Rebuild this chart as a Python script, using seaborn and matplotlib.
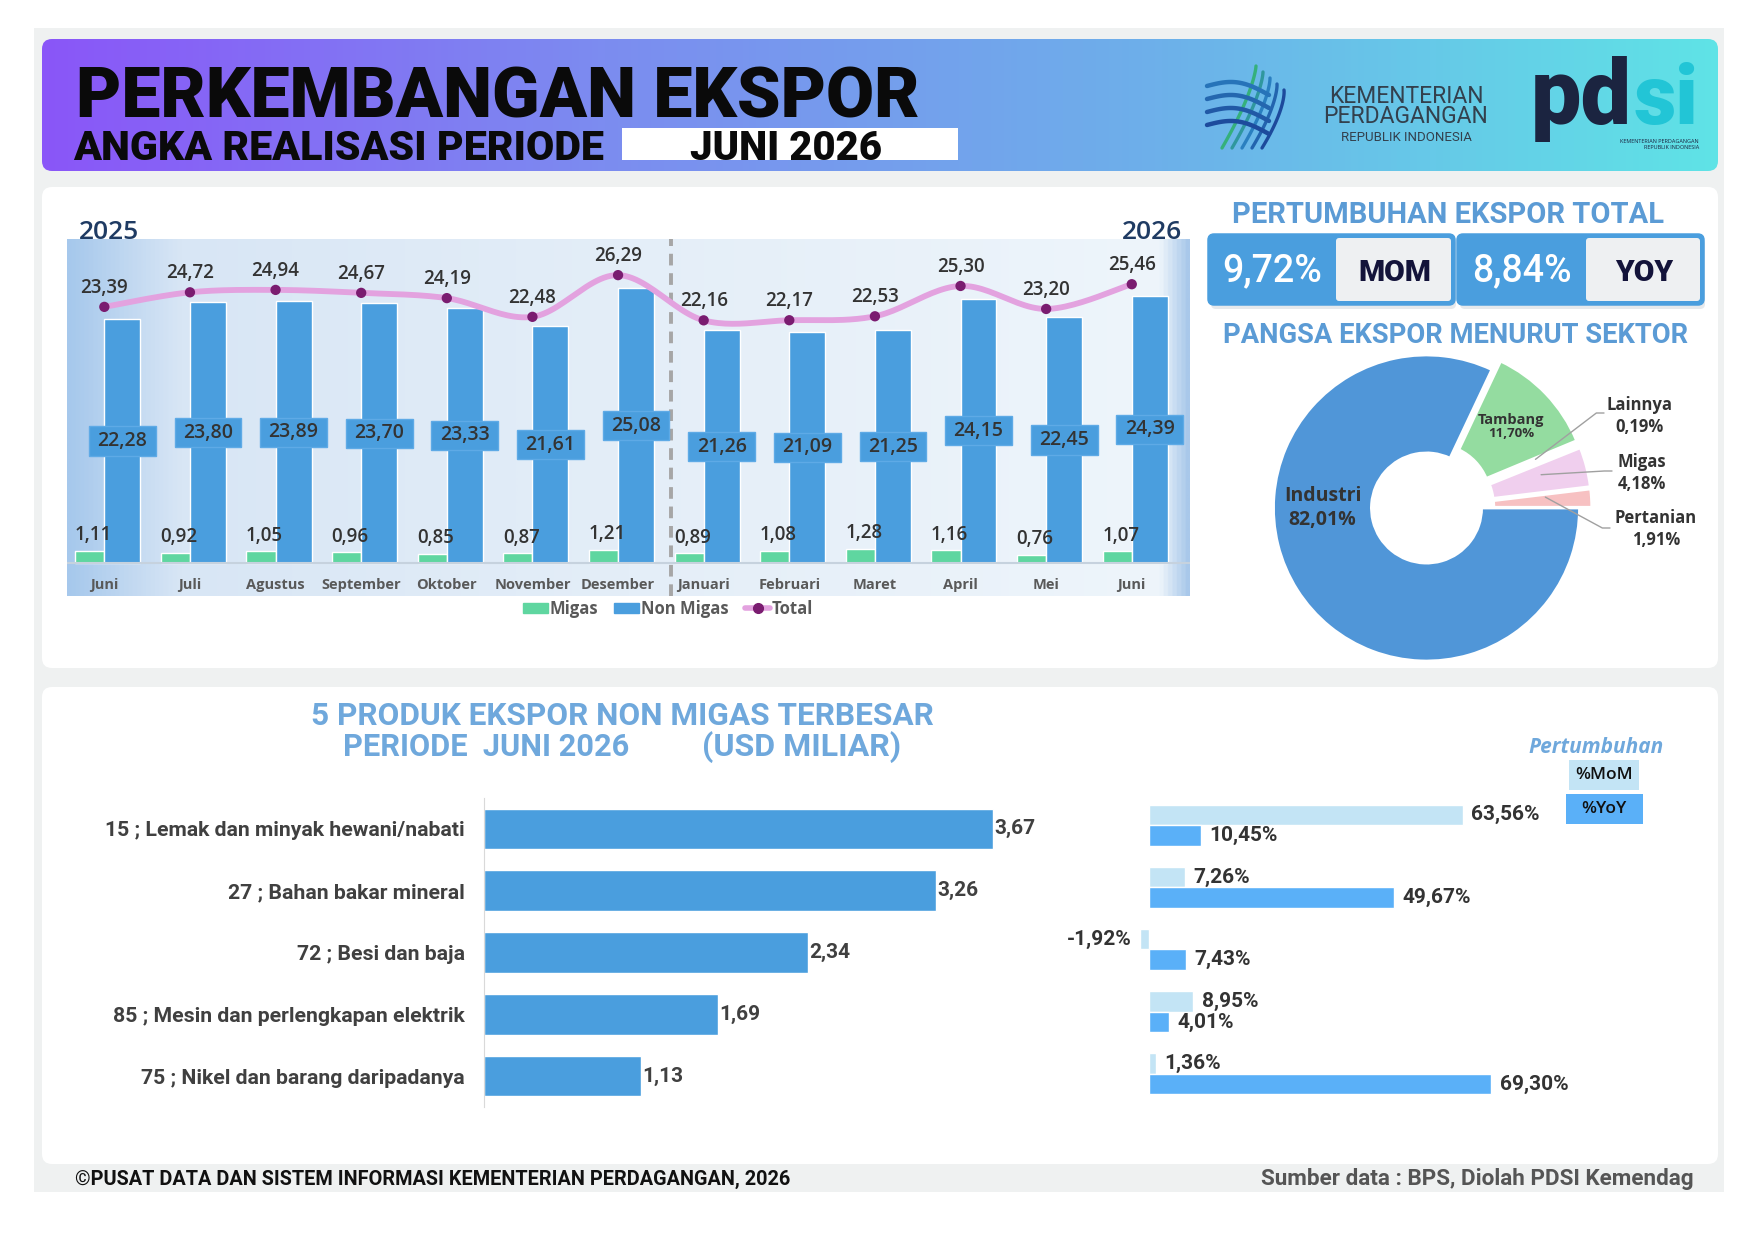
import numpy as np
import pandas as pd
import matplotlib
matplotlib.use("Agg")
import matplotlib.pyplot as plt
import matplotlib.colors as mcolors
from matplotlib.patches import FancyBboxPatch, Rectangle, Patch
from matplotlib.lines import Line2D
import seaborn as sns

# ---- data ----
months = ["Juni", "Juli", "Agustus", "September", "Oktober", "November", "Desember",
          "Januari", "Februari", "Maret", "April", "Mei", "Juni"]
migas = [1.11, 0.92, 1.05, 0.96, 0.85, 0.87, 1.21, 0.89, 1.08, 1.28, 1.16, 0.76, 1.07]
non_migas = [22.28, 23.80, 23.89, 23.70, 23.33, 21.61, 25.08,
             21.26, 21.09, 21.25, 24.15, 22.45, 24.39]
total = [23.39, 24.72, 24.94, 24.67, 24.19, 22.48, 26.29,
         22.16, 22.17, 22.53, 25.30, 23.20, 25.46]

growth_mom = 9.72
growth_yoy = 8.84

sectors = ["Pertanian", "Migas", "Lainnya", "Tambang", "Industri"]
sector_share = [1.91, 4.18, 0.19, 11.70, 82.01]

products = ["15 ; Lemak dan minyak hewani/nabati", "27 ; Bahan bakar mineral",
            "72 ; Besi dan baja", "85 ; Mesin dan perlengkapan elektrik",
            "75 ; Nikel dan barang daripadanya"]
product_value = [3.67, 3.26, 2.34, 1.69, 1.13]
product_mom = [63.56, 7.26, -1.92, 8.95, 1.36]
product_yoy = [10.45, 49.67, 7.43, 4.01, 69.30]

# ---- style ----
W, H = 1755, 1240
blue = "#4a9ede"
green = "#5fd6a0"
line_pink = "#e3a2df"
plum = "#7a1c70"
head_blue = "#5b9bd5"
txt_dark = "#333333"
mom_color = "#c3e4f5"
yoy_color = "#5ab0f8"
sector_colors = ["#f7c1c2", "#f0cfee", "#c9c9e8", "#94dca0", "#5096d8"]

sns.set_style("white")
plt.rcParams["font.family"] = ["Open Sans", "DejaVu Sans"]
head_font = ["Roboto", "DejaVu Sans"]


def idn(v, suffix=""):
    return f"{v:.2f}".replace(".", ",") + suffix


fig = plt.figure(figsize=(W / 100, H / 100), dpi=100)
fig.patch.set_facecolor("white")
bg = fig.add_axes([0, 0, 1, 1], zorder=0)
bg.axis("off")
rend = fig.canvas.get_renderer()


def px_axes(x0, y0, x1, y1):
    ax = fig.add_axes([x0 / W, 1 - y1 / H, (x1 - x0) / W, (y1 - y0) / H], zorder=2)
    ax.patch.set_alpha(0)
    return ax


def rbox(x0, y0, x1, y1, r, **kw):
    p = FancyBboxPatch((x0 + r, y0 + r), x1 - x0 - 2 * r, y1 - y0 - 2 * r,
                       boxstyle=f"round,pad={r}", **kw)
    bg.add_patch(p)
    return p


def fit(txt, width):
    w = txt.get_window_extent(rend).width
    txt.set_fontsize(txt.get_fontsize() * width / w)
    return txt


# ---- page background ----
bg.add_patch(Rectangle((34, 28), 1690, 1164, fc="#eff1f1", ec="none", zorder=0))
rbox(42, 187, 1718, 668, 10, fc="white", ec="none", zorder=1)
rbox(42, 687, 1718, 1164, 10, fc="white", ec="none", zorder=1)

# header band
hdr_cmap = mcolors.LinearSegmentedColormap.from_list(
    "hdr", ["#8a56f8", "#7c8cf0", "#6db0ea", "#5fe3e6"])
hdr = bg.imshow(np.linspace(0, 1, 256)[None, :], cmap=hdr_cmap, aspect="auto",
                extent=(42, 1718, 171, 39), zorder=1)
hdr.set_clip_path(rbox(42, 39, 1718, 171, 10, fc="none", ec="none", zorder=1))
bg.set_xlim(0, W)
bg.set_ylim(H, 0)

t = bg.text(76, 117, "PERKEMBANGAN EKSPOR", family=head_font, weight="black",
            fontsize=50, color="#0a0a0a", va="baseline", zorder=4)
fit(t, 845)
t = bg.text(73, 160, "ANGKA REALISASI PERIODE", family=head_font, weight="black",
            fontsize=24, color="#0a0a0a", va="baseline", zorder=4)
fit(t, 531)
bg.add_patch(Rectangle((622, 128), 336, 32, fc="white", ec="none", zorder=3))
t = bg.text(786, 159.5, "JUNI 2026", family=head_font, weight="black",
            fontsize=24, color="#0a0a0a", va="baseline", ha="center", zorder=4)
fit(t, 192)

# ministry mark
tt = np.linspace(0, 1, 40)
mark_cmap = mcolors.LinearSegmentedColormap.from_list("mark", ["#35b07c", "#2a7fc0", "#1d4a9c"])
for k in range(5):
    xs = 1256 + 7 * k - 34 * tt ** 1.4 + 3 * k * tt
    ys = 66 + 6 * k * (1 - tt) + 82 * tt
    bg.plot(xs, ys, color=mark_cmap(k / 4), lw=2.4, solid_capstyle="round", zorder=3)
for k in range(4):
    xs = 1207 + 62 * tt
    ys = 86 + 13 * k + 9 * tt - 8 * np.sin(np.pi * tt)
    bg.plot(xs, ys, color=mark_cmap(0.6 + 0.13 * k), lw=3.2, solid_capstyle="round", zorder=3)

for label, base, size in [("KEMENTERIAN", 103, 16.5), ("PERDAGANGAN", 123, 16.5),
                          ("REPUBLIK INDONESIA", 141, 9.5)]:
    t = bg.text(1406, base, label, family=head_font, fontsize=size, color="#33404d",
                va="baseline", ha="center", zorder=4)
t = bg.text(1531, 124, "pd", family=head_font, weight="black", fontsize=60,
            color="#1b2440", va="baseline", zorder=4)
fit(t, 101)
t = bg.text(1634, 124, "si", family=head_font, weight="black", fontsize=60,
            color="#22c5d6", va="baseline", zorder=4)
fit(t, 65)
bg.text(1699, 143, "KEMENTERIAN PERDAGANGAN", fontsize=4, color="#1b2440",
        ha="right", va="baseline", zorder=4)
bg.text(1699, 149, "REPUBLIK INDONESIA", fontsize=4, color="#1b2440",
        ha="right", va="baseline", zorder=4)

# ---- monthly export chart ----
ax1 = px_axes(67, 239, 1190, 596)
x = np.arange(len(months))
panel_cmap = mcolors.LinearSegmentedColormap.from_list(
    "panel", [(0, "#a6c8ec"), (0.1, "#d8e6f5"), (0.5, "#e4eef8"),
              (0.975, "#eef5fb"), (1, "#a9c8ea")])
ax1.imshow(np.linspace(0, 1, 512)[None, :], cmap=panel_cmap, aspect="auto",
           extent=(0, 1, 0, 1), transform=ax1.transAxes, zorder=0)

ax1.bar(x, migas, width=-0.34, align="edge", color=green, zorder=2)
ax1.bar(x, non_migas, width=0.42, align="edge", color=blue, zorder=2)
ax1.axhline(0, color="#c6d2de", lw=1.5, zorder=3)
ax1.axvline(6.62, color="#a6a6a6", lw=2.8, ls=(0, (3, 2)), zorder=3)


def smooth(xs, ys, n=24):
    P = np.column_stack([xs, ys]).astype(float)
    P = np.vstack([P[0], P, P[-1]])
    out = []
    s = np.linspace(0, 1, n, endpoint=False)[:, None]
    for i in range(1, len(P) - 2):
        p0, p1, p2, p3 = P[i - 1], P[i], P[i + 1], P[i + 2]
        out.append(0.5 * (2 * p1 + (p2 - p0) * s + (2 * p0 - 5 * p1 + 4 * p2 - p3) * s ** 2
                          + (3 * p1 - p0 - 3 * p2 + p3) * s ** 3))
    out.append(P[-2][None, :])
    out = np.vstack(out)
    return out[:, 0], out[:, 1]


sx, sy = smooth(x, total)
ax1.plot(sx, sy, color=line_pink, lw=4.2, zorder=4, solid_capstyle="round")
sns.scatterplot(x=x, y=total, ax=ax1, color=plum, s=55, edgecolor="none",
                zorder=5, legend=False)

for i in range(len(months)):
    ax1.text(x[i], total[i] + 1.75, idn(total[i]), ha="center", va="center",
             fontsize=13.5, weight="semibold", color=txt_dark, zorder=6)
    ax1.text(x[i] - 0.13, migas[i] + 1.43, idn(migas[i]), ha="center", va="center",
             fontsize=13.5, weight="semibold", color=txt_dark, zorder=6)
    cx = x[i] + 0.21
    ax1.add_patch(Rectangle((cx - 0.39, non_migas[i] / 2 - 1.33), 0.78, 2.66,
                            fc=blue, ec="#5eaae6", lw=1, zorder=5))
    ax1.text(cx, non_migas[i] / 2, idn(non_migas[i]), ha="center", va="center",
             fontsize=14, weight="semibold", color=txt_dark, zorder=6)
    ax1.text(x[i], -2.05, months[i], ha="center", va="center", fontsize=10.5,
             weight="bold", color="#595959", zorder=6)

ax1.set_xlim(-0.436, 12.68)
ax1.set_ylim(-3.02, 29.59)
ax1.set_xticks([])
ax1.set_yticks([])
for sp in ax1.spines.values():
    sp.set_visible(False)

bg.text(79, 239, "2025", fontsize=19, weight="semibold", color="#1f3b63", va="baseline", zorder=4)
bg.text(1182, 239, "2026", fontsize=19, weight="semibold", color="#1f3b63", va="baseline",
        ha="right", zorder=4)
t = bg.text(76, 263, "USD Miliar", family=head_font, weight="black", fontsize=13,
            color="#111111", va="baseline", zorder=5)
fit(t, 105)

handles = [Patch(color=green), Patch(color=blue),
           Line2D([0], [0], color=line_pink, lw=4, marker="o", mfc=plum, mec=plum, ms=7)]
fig.legend(handles, ["Migas", "Non Migas", "Total"], loc="center",
           bbox_to_anchor=(668 / W, 1 - 609 / H), ncol=3, frameon=False,
           prop={"size": 12, "weight": "bold"}, labelcolor="#595959",
           handlelength=1.5, handleheight=0.6, handletextpad=0.1, columnspacing=1.0)

# ---- growth boxes ----
t = bg.text(1448, 223, "PERTUMBUHAN EKSPOR TOTAL", family=head_font, weight="bold",
            fontsize=18, color=head_blue, ha="center", va="baseline", zorder=4)
fit(t, 432)
for x0, x1, xm, val, lab in [(1209, 1454, 1336, growth_mom, "MOM"),
                             (1458, 1703, 1586, growth_yoy, "YOY")]:
    rbox(x0 + 2, 239, x1 + 2, 309, 5, fc="#e6e9ec", ec="none", zorder=2)
    rbox(x0, 235, x1, 304, 5, fc=blue, ec="none", zorder=3)
    rbox(xm, 238, x1 - 3, 301, 3, fc="#eef0f2", ec="none", zorder=3)
    rbox(x0, 235, x1, 304, 5, fc="none", ec=blue, lw=2.5, zorder=4)
    bg.text((x0 + xm) / 2, 281, idn(val, "%"), family=head_font, weight="medium",
            fontsize=27, color="white", ha="center", va="baseline", zorder=5)
    bg.text((xm + x1) / 2, 281, lab, family=head_font, weight="black",
            fontsize=21.5, color="#13133a", ha="center", va="baseline", zorder=5)

t = bg.text(1456, 343, "PANGSA EKSPOR MENURUT SEKTOR", family=head_font, weight="bold",
            fontsize=18, color=head_blue, ha="center", va="baseline", zorder=4)
fit(t, 467)

# ---- sector donut ----
R = 153
cx0, cy0 = 1426.5, 508
ax2 = px_axes(cx0 - 200, cy0 - 200, cx0 + 200, cy0 + 200)
wedges, _ = ax2.pie(sector_share, colors=sector_colors, startangle=0, counterclock=True,
                    explode=[0.08, 0.08, 0.08, 0.08, 0],
                    wedgeprops=dict(width=0.64, edgecolor="white", linewidth=2))
ax2.set_xlim(-200 / R, 200 / R)
ax2.set_ylim(-200 / R, 200 / R)
ax2.set_aspect("equal")

ax2.text(-0.68, 0, "Industri\n" + idn(sector_share[4], "%"), ha="center", va="center",
         fontsize=14, weight="bold", color=txt_dark, linespacing=1.3)
mid = np.deg2rad((wedges[3].theta1 + wedges[3].theta2) / 2)
ax2.text(0.765 * np.cos(mid), 0.765 * np.sin(mid), "Tambang", ha="center", va="bottom",
         fontsize=10.5, weight="bold", color=txt_dark)
ax2.text(0.765 * np.cos(mid), 0.765 * np.sin(mid), idn(sector_share[3], "%"), ha="center",
         va="top", fontsize=9.5, weight="bold", color=txt_dark)

# outside labels with leader lines: (wedge index, label centre px, line start px)
for idx, (lx, ly), (sx0, sy0) in [(2, (1639, 416), (1604, 413)),
                                  (1, (1642, 473), (1612, 471)),
                                  (0, (1656, 529), (1610, 528))]:
    w = wedges[idx]
    a = np.deg2rad((w.theta1 + w.theta2) / 2 + 2)
    ex, ey = w.center[0] + 0.70 * np.cos(a), w.center[1] + 0.70 * np.sin(a)
    px, py = (sx0 - cx0) / R, (cy0 - sy0) / R
    ax2.plot([ex, px - 0.05, px], [ey, py, py], color="#a0a0a0", lw=1, zorder=5)
    ax2.text((lx - cx0) / R, (cy0 - ly) / R, sectors[idx] + "\n" + idn(sector_share[idx], "%"),
             ha="center", va="center", fontsize=12, weight="bold", color=txt_dark,
             linespacing=1.35)

# ---- top products ----
t = bg.text(622, 725, "5 PRODUK EKSPOR NON MIGAS TERBESAR", family=head_font, weight="bold",
            fontsize=19, color="#6fa8dc", ha="center", va="baseline", zorder=4)
fit(t, 623)
t = bg.text(343, 756, "PERIODE  JUNI 2026", family=head_font, weight="bold",
            fontsize=19, color="#6fa8dc", va="baseline", zorder=4)
fit(t, 285)
t = bg.text(702, 756, "(USD MILIAR)", family=head_font, weight="bold",
            fontsize=19, color="#6fa8dc", va="baseline", zorder=4)
fit(t, 199)

prod_df = pd.DataFrame({"produk": products, "nilai": product_value})
ax3 = px_axes(484, 798, 1100, 1107)
sns.barplot(data=prod_df, x="nilai", y="produk", orient="h", color=blue,
            saturation=1, width=0.66, ax=ax3)
ax3.bar_label(ax3.containers[0], labels=[idn(v) for v in product_value], padding=1,
              fontsize=15, weight="bold", family=head_font, color="#404040")
ax3.set_xlim(0, 616 / 138.6)
ax3.set_ylim(4.5, -0.5)
ax3.set_xlabel("")
ax3.set_ylabel("")
ax3.set_xticks([])
ax3.set_yticks(range(len(products)))
ax3.set_yticklabels(products, fontweight="bold", family=head_font, fontsize=15.3,
                    color="#404040")
ax3.tick_params(axis="y", length=0, pad=14)
for name, sp in ax3.spines.items():
    sp.set_visible(name == "left")
ax3.spines["left"].set_color("#d9d9d9")

growth_df = pd.DataFrame({"produk": products * 2,
                          "tipe": ["%MoM"] * 5 + ["%YoY"] * 5,
                          "nilai": product_mom + product_yoy})
ax4 = px_axes(1100, 794, 1560, 1105)
sns.barplot(data=growth_df, x="nilai", y="produk", hue="tipe", orient="h",
            palette=[mom_color, yoy_color], saturation=1, width=0.66, ax=ax4, legend=False)
for cont, vals in zip(ax4.containers, [product_mom, product_yoy]):
    ax4.bar_label(cont, labels=[idn(v, "%") for v in vals], padding=6,
                  fontsize=15, weight="bold", family=head_font, color=txt_dark)
ax4.set_xlim(-49 / 4.94, 411 / 4.94)
ax4.set_ylim(4.5, -0.5)
ax4.axis("off")

bg.text(1596, 753, "Pertumbuhan", fontsize=15, weight="bold", style="italic",
        color="#6fa8dc", ha="center", va="baseline", zorder=4)
bg.add_patch(Rectangle((1569, 760), 70, 30, fc=mom_color, ec="none", zorder=3))
bg.text(1604, 775, "%MoM", fontsize=12.5, weight="semibold", color="#111111",
        ha="center", va="center", zorder=4)
bg.add_patch(Rectangle((1566, 794), 77, 30, fc=yoy_color, ec="none", zorder=3))
bg.text(1604, 809, "%YoY", fontsize=12.5, weight="semibold", color="#111111",
        ha="center", va="center", zorder=4)

# ---- footer ----
t = bg.text(75, 1185, "\u00a9PUSAT DATA DAN SISTEM INFORMASI KEMENTERIAN PERDAGANGAN, 2026",
            family=head_font, weight="bold", fontsize=12, color="#111111",
            va="baseline", zorder=4)
fit(t, 716)
t = bg.text(1694, 1185, "Sumber data : BPS, Diolah PDSI Kemendag", family=head_font,
            weight="bold", fontsize=13, color="#555555", ha="right", va="baseline", zorder=4)
fit(t, 431)

fig.savefig("out.png", dpi=100)
